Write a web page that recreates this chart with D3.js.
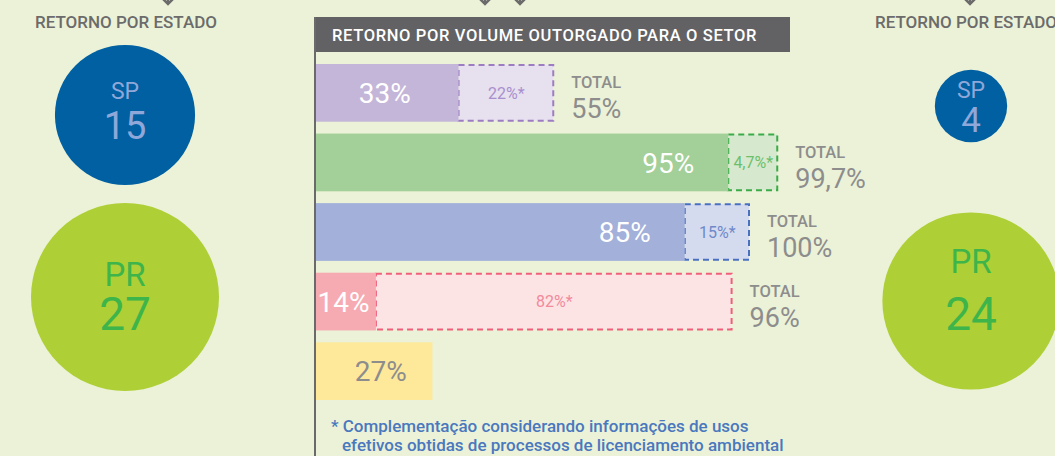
<!DOCTYPE html>
<html>
<head>
<meta charset="utf-8">
<script src="https://cdn.jsdelivr.net/npm/d3@7"></script>
<style>
  body { margin: 0; background: #ecf2d7; }
  svg { display: block; font-family: Roboto, "Liberation Sans", sans-serif; }
</style>
</head>
<body>
<div id="chart"></div>
<script>
// bar data: valor outorgado + complementacao
const setores = ['s1', 's2', 's3', 's4', 's5']
const outorgado = [33, 95, 85, 14, 27]
const complemento = [22, 4.7, 15, 82, null]
const totais = [55, 99.7, 100, 96, null]
const outorgadoLabels = ['33%', '95%', '85%', '14%', '27%']
const complementoLabels = ['22%*', '4,7%*', '15%*', '82%*', null]
const totalLabels = ['55%', '99,7%', '100%', '96%', null]

const solidColors = ['#c4b6d9', '#a3cf99', '#a2b0da', '#f6abb2', '#fee99b']
const dashFill = ['#e6e0ef', '#d6e9cf', '#d5dbef', '#fde4e4', null]
const dashStroke = ['#9d7dc2', '#3aab48', '#4a70c1', '#ef5f7a', null]
const dashText = ['#a98fcd', '#6dbf6c', '#6f88c9', '#f18a9c', null]

// states
const estadosEsq = [{uf: 'SP', v: 15}, {uf: 'PR', v: 27}]
const estadosDir = [{uf: 'SP', v: 4}, {uf: 'PR', v: 24}]

const width = 1055, height = 456
const svg = d3.select('#chart').append('svg')
    .attr('width', width)
    .attr('height', height)

const x = d3.scaleLinear()
    .domain([0, 100])
    .range([315, 750])

const y = d3.scaleBand()
    .domain(setores)
    .range([64, 400])
    .paddingInner(0.17)
    .paddingOuter(0)

const minBox = 50 // room for the small label

// header
svg.append('rect')
    .attr('x', 315).attr('y', 17)
    .attr('width', 475).attr('height', 35)
    .attr('fill', '#626264')
svg.append('text')
    .attr('x', 332).attr('y', 40.5)
    .attr('fill', '#fff')
    .attr('font-size', 16.5)
    .attr('font-weight', 500)
    .attr('letter-spacing', 0.65)
    .text('RETORNO POR VOLUME OUTORGADO PARA O SETOR')

// little arrows on top
function arrow(cx) {
  svg.append('path')
      .attr('d', `M${cx},-4 V3 M${cx - 6},-2 L${cx},4 L${cx + 6},-2`)
      .attr('fill', 'none')
      .attr('stroke', '#6b6b6b')
      .attr('stroke-width', 2.5)
}
arrow(485); arrow(520); arrow(168); arrow(970)

const boxEnd = i => x(outorgado[i]) + Math.max(x(totais[i]) - x(outorgado[i]), minBox)

const rows = svg.selectAll('.row')
  .data(setores)
  .join('g')
    .attr('class', 'row')

// dashed complement boxes
rows.filter((d, i) => complemento[i] != null)
  .append('rect')
    .attr('x', d => x(outorgado[setores.indexOf(d)]))
    .attr('y', d => y(d) + 1)
    .attr('width', d => { const i = setores.indexOf(d); return boxEnd(i) - x(outorgado[i]) - 1 })
    .attr('height', y.bandwidth() - 2)
    .attr('fill', d => dashFill[setores.indexOf(d)])
    .attr('stroke', d => dashStroke[setores.indexOf(d)])
    .attr('stroke-width', 2)
    .attr('stroke-dasharray', '6,4')

rows.append('rect')
    .attr('x', x(0))
    .attr('y', d => y(d))
    .attr('width', (d, i) => x(outorgado[i]) - x(0))
    .attr('height', y.bandwidth())
    .attr('fill', (d, i) => solidColors[i])

// value labels
rows.append('text')
    .attr('x', (d, i) => {
      const w = x(outorgado[i]) - x(0)
      return w > 200 ? x(outorgado[i]) - 34 : x(0) + w / 2 + (i == 4 ? 7 : -2)
    })
    .attr('text-anchor', (d, i) => (x(outorgado[i]) - x(0)) > 200 ? 'end' : 'middle')
    .attr('y', d => y(d) + y.bandwidth() / 2)
    .attr('dy', '0.36em')
    .attr('font-size', 28)
    .attr('fill', (d, i) => i == 4 ? '#8d8d8d' : '#fff')
    .text((d, i) => outorgadoLabels[i])

rows.filter((d, i) => complemento[i] != null)
  .append('text')
    .attr('x', d => { const i = setores.indexOf(d); return (x(outorgado[i]) + boxEnd(i)) / 2 })
    .attr('y', d => y(d) + y.bandwidth() / 2)
    .attr('dy', '0.36em')
    .attr('text-anchor', 'middle')
    .attr('font-size', 16)
    .attr('fill', d => dashText[setores.indexOf(d)])
    .text(d => complementoLabels[setores.indexOf(d)])

const tot = rows.filter((d, i) => totais[i] != null)
  .append('g')
    .attr('transform', d => `translate(${boxEnd(setores.indexOf(d)) + 17},${y(d)})`)
tot.append('text')
    .attr('y', 24)
    .attr('font-size', 16.5)
    .attr('font-weight', 500)
    .attr('fill', '#8d8d8d')
    .text('TOTAL')
tot.append('text')
    .attr('y', 54)
    .attr('font-size', 27)
    .attr('fill', '#8d8d8d')
    .text(d => totalLabels[setores.indexOf(d)])

// axis line
svg.append('line')
    .attr('x1', 315).attr('x2', 315)
    .attr('y1', 17).attr('y2', height)
    .attr('stroke', '#6a6a6a')
    .attr('stroke-width', 2)

// footnote
const foot = svg.append('text')
    .attr('font-size', 17)
    .attr('font-weight', 500)
    .attr('fill', '#4a78bf')
foot.append('tspan').attr('x', 331).attr('y', 432).text('* Complementação considerando informações de usos')
foot.append('tspan').attr('x', 342).attr('y', 451).text('efetivos obtidas de processos de licenciamento ambiental')

// state circles
const r = d3.scaleSqrt().domain([0, 27]).range([0, 94])

function estados(data, cx, titleX, anchor, cys, off) {
  svg.append('text')
      .attr('x', titleX).attr('y', 28)
      .attr('text-anchor', anchor)
      .attr('font-size', 17)
      .attr('font-weight', 500)
      .attr('fill', '#6b6b6b')
      .text('RETORNO POR ESTADO')
  const g = svg.selectAll(null)
    .data(data)
    .join('g')
      .attr('transform', (d, i) => `translate(${cx},${cys[i]})`)
  g.append('circle')
      .attr('r', d => r(d.v))
      .attr('fill', d => d.uf == 'SP' ? '#0060a1' : '#aecf36')
  g.append('text')
      .attr('text-anchor', 'middle')
      .attr('y', (d, i) => off[i][0])
      .attr('font-size', d => d.uf == 'SP' ? 23 : 33)
      .attr('fill', d => d.uf == 'SP' ? '#8fa7d9' : '#3db54a')
      .text(d => d.uf)
  g.append('text')
      .attr('text-anchor', 'middle')
      .attr('y', (d, i) => off[i][1])
      .attr('font-size', d => d.uf == 'SP' ? (d.v > 9 ? 38 : 35) : 46)
      .attr('fill', d => d.uf == 'SP' ? '#8fa7d9' : '#3db54a')
      .text(d => d.v)
}
estados(estadosEsq, 125, 126, 'middle', [115, 297], [[-16, 24], [-11, 33]])
estados(estadosDir, 971, 875, 'start', [106, 301], [[-8, 26], [-28, 29]])
</script>
</body>
</html>
